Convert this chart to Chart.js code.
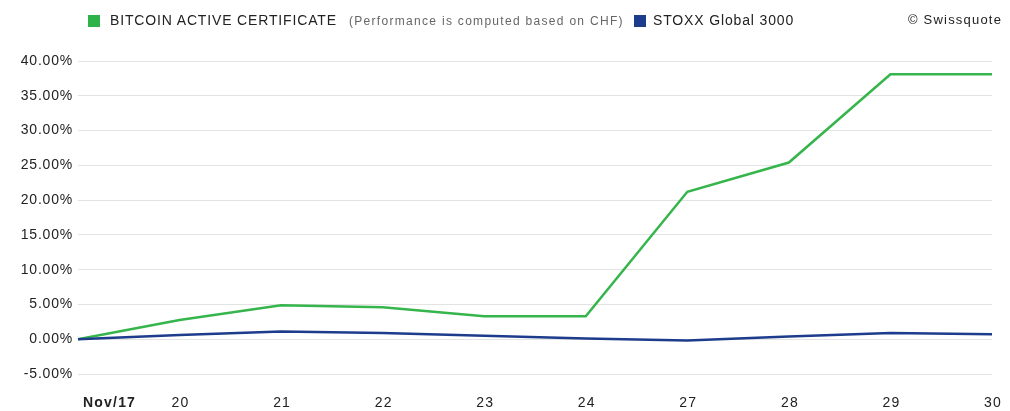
<!DOCTYPE html>
<html>
<head>
<meta charset="utf-8">
<script src="https://cdn.jsdelivr.net/npm/chart.js@4"></script>
<style>
  body { margin: 0; background: #fff; }
  #wrap { position: relative; width: 1010px; height: 411px; font-family: "Liberation Sans", Arial, sans-serif; }
  #chart { position: absolute; left: 0; top: 0; }
  .sq { position: absolute; width: 12px; height: 12px; top: 15px; }
  .lbl { position: absolute; top: 12px; font-size: 14px; letter-spacing: 0.85px; color: #222; white-space: nowrap; }
  .note { position: absolute; top: 14px; font-size: 12px; letter-spacing: 1.3px; color: #666; white-space: nowrap; }
</style>
</head>
<body>
<div id="wrap">
  <canvas id="chart" width="1010" height="411"></canvas>
  <div class="sq" style="left:88px;background:#2db34a"></div>
  <div class="lbl" style="left:110px">BITCOIN ACTIVE CERTIFICATE</div>
  <div class="note" style="left:349px">(Performance is computed based on CHF)</div>
  <div class="sq" style="left:634px;background:#1d3c8c"></div>
  <div class="lbl" style="left:653px">STOXX Global 3000</div>
  <div class="lbl" style="left:908px;font-size:13px;letter-spacing:1.2px">© Swissquote</div>
</div>
<script>
// data
const categories = ['Nov/17', '20', '21', '22', '23', '24', '27', '28', '29', '30'];
const bitcoinCert = [0, 2.75, 4.9, 4.6, 3.3, 3.3, 21.2, 25.4, 38.1, 38.1];
const stoxxGlobal = [0, 0.6, 1.1, 0.9, 0.5, 0.1, -0.2, 0.4, 0.9, 0.7];
const yTicks = [-5, 0, 5, 10, 15, 20, 25, 30, 35, 40];

const FONT = '"Liberation Sans", Arial, sans-serif';

// the source text is a bit wide, so add some letter spacing
const spacing = {
  id: 'spacing',
  beforeDraw(chart) { chart.ctx.letterSpacing = '0.8px'; },
  afterDraw(chart) { chart.ctx.letterSpacing = '0px'; }
};

// x labels drawn by hand so the first one can be bold and left aligned
const xLabels = {
  id: 'xLabels',
  afterDraw(chart) {
    const ctx = chart.ctx;
    const x = chart.scales.x;
    ctx.save();
    ctx.letterSpacing = '1.2px';
    ctx.fillStyle = '#222';
    ctx.textBaseline = 'middle';
    categories.forEach((c, i) => {
      const px = x.getPixelForValue(i);
      if (i === 0) {
        ctx.font = 'bold 14px ' + FONT;
        ctx.textAlign = 'left';
        ctx.fillText(c, px + 5, 403);
      } else {
        ctx.font = '14px ' + FONT;
        ctx.textAlign = 'center';
        ctx.fillText(c, px + 1, 403);
      }
    });
    ctx.restore();
  }
};

new Chart(document.getElementById('chart'), {
  type: 'line',
  data: {
    labels: categories,
    datasets: [
      { label: 'STOXX Global 3000', data: stoxxGlobal, borderColor: '#1d3c8c', borderWidth: 2.5, pointRadius: 0, tension: 0 },
      { label: 'BITCOIN ACTIVE CERTIFICATE', data: bitcoinCert, borderColor: '#35b54b', borderWidth: 2.5, pointRadius: 0, tension: 0 }
    ]
  },
  options: {
    responsive: false,
    animation: false,
    layout: { padding: { top: 61, right: 18, bottom: 37, left: 0 } },
    plugins: { legend: { display: false }, tooltip: { enabled: false } },
    scales: {
      x: { display: false, offset: false },
      y: {
        min: -5, max: 40,
        afterBuildTicks: (s) => { s.ticks = yTicks.map(v => ({ value: v })); },
        afterFit: (s) => { s.width = 78; },
        border: { display: false },
        grid: { color: '#e3e3e3', drawTicks: false, lineWidth: 1 },
        ticks: {
          padding: 5,
          color: '#222',
          font: { family: FONT, size: 14 },
          callback: (v) => v.toFixed(2) + '%'
        }
      }
    }
  },
  plugins: [spacing, xLabels]
});
</script>
</body>
</html>
